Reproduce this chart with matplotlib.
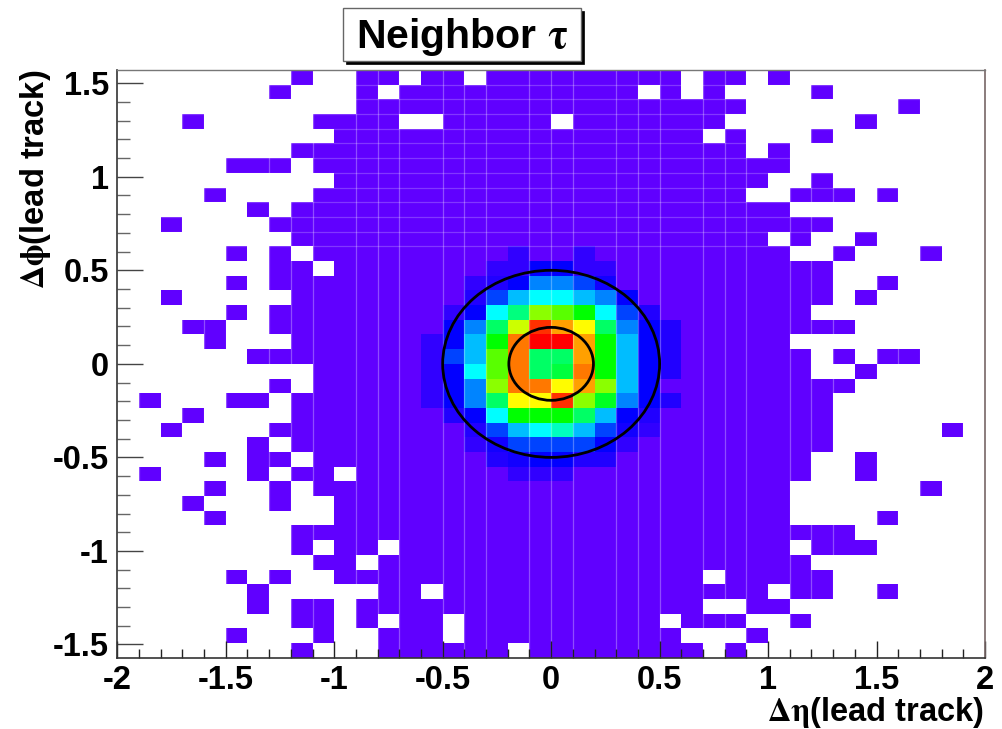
import numpy as np
import matplotlib
matplotlib.use("Agg")
import matplotlib.pyplot as plt
from matplotlib.colors import LinearSegmentedColormap
from matplotlib.patches import Ellipse, Rectangle
from matplotlib.ticker import FixedLocator, MultipleLocator

plt.rcParams['font.family'] = ['Liberation Sans', 'DejaVu Sans']
plt.rcParams['font.weight'] = 'bold'
plt.rcParams['axes.unicode_minus'] = False
plt.rcParams['mathtext.fontset'] = 'stix'
plt.rcParams['mathtext.default'] = 'regular'

# ---- data -------------------------------------------------------------
title_text = r"Neighbor $\mathrm{\tau}$"
x_label = r"$\mathrm{\Delta\eta}$(lead track)"
y_label = r"$\mathrm{\Delta\phi}$(lead track)"
x_ticks = [-2, -1.5, -1, -0.5, 0, 0.5, 1, 1.5, 2]
y_ticks = [-1.5, -1, -0.5, 0, 0.5, 1, 1.5]
x_edges = np.linspace(-2, 2, 41)
y_edges = np.linspace(np.pi / 2, -np.pi / 2, 41)   # top row first
cone_radii = [0.5, 0.195]

# occupied bins in each row, top row first, as (first column, last column)
occupied_spans = [
    [(8,8),(11,12),(14,15),(17,25),(27,28),(30,30)],
    [(7,7),(11,11),(13,23),(25,25),(27,27),(32,32)],
    [(11,28),(36,36)],
    [(3,3),(9,12),(15,19),(21,27),(34,34)],
    [(10,26),(28,28),(32,32)],
    [(8,28),(30,30)],
    [(5,7),(9,30)],
    [(10,29),(32,32)],
    [(4,4),(9,28),(31,33),(35,35)],
    [(6,6),(8,30)],
    [(2,2),(7,32)],
    [(8,29),(31,31),(34,34)],
    [(5,5),(7,7),(9,30),(33,33),(37,37)],
    [(7,8),(10,32)],
    [(5,5),(7,32),(35,35)],
    [(2,2),(8,32),(34,34)],
    [(5,5),(7,31)],
    [(3,4),(7,33)],
    [(4,4),(8,30)],
    [(6,31),(33,33),(35,36)],
    [(9,31),(34,34)],
    [(7,7),(9,33)],
    [(1,1),(5,6),(8,32)],
    [(3,3),(8,32)],
    [(2,2),(7,32),(38,38)],
    [(6,6),(8,32)],
    [(4,4),(6,7),(9,31),(34,34)],
    [(1,1),(6,6),(8,9),(11,31),(34,34)],
    [(4,4),(7,7),(9,30),(37,37)],
    [(3,3),(7,7),(10,30)],
    [(4,4),(10,30),(35,35)],
    [(8,33)],
    [(8,8),(10,11),(13,30),(32,34)],
    [(9,10),(12,31)],
    [(5,5),(7,7),(10,26),(28,32)],
    [(6,6),(12,13),(15,29),(31,32),(35,35)],
    [(6,6),(8,9),(11,26),(29,30)],
    [(8,9),(11,11),(13,14),(16,24),(26,28),(31,31)],
    [(5,5),(9,9),(12,14),(16,25),(29,29)],
    [(8,8),(12,17),(19,26),(28,28)],
]

# estimated level of the central bins: rows 12..27, columns 14..25
core_first_row = 12
core_first_col = 14
core_levels = [
    [ 0, 0, 0, 0, 6, 0, 0, 6, 0, 0, 0, 0],
    [ 0, 0, 0, 6, 6,12,12, 6, 6, 0, 0, 0],
    [ 0, 0, 6, 8,12,24,24,18,10, 0, 0, 0],
    [ 0, 0, 8,18,29,35,35,29,24,12, 0, 0],
    [ 0, 6,12,35,45,66,62,55,35,18, 8, 0],
    [ 0,12,24,47,71,95,84,75,47,24,12, 8],
    [ 6,12,29,55,88,100,100,84,55,29,12, 8],
    [ 6,18,29,62,88,47,47,84,55,29,12, 8],
    [ 6,12,35,62,88,47,50,88,55,29,12, 8],
    [ 6,12,24,66,88,88,75,84,66,29,12, 0],
    [ 6,12,24,47,75,75,95,66,52,24,12, 8],
    [ 0, 8,12,35,55,55,55,47,29,12, 8, 0],
    [ 0, 0, 8,18,29,35,40,29,18,10, 6, 0],
    [ 0, 0, 6,10,18,18,18,18,12, 6, 0, 0],
    [ 0, 0, 0, 8,10,12,12, 8, 8, 0, 0, 0],
    [ 0, 0, 0, 0, 6, 6, 6, 0, 0, 0, 0, 0],
]

# ---- grid ---------------------------------------------------------------
grid = np.full((40, 40), np.nan)
for row, spans in enumerate(occupied_spans):
    for first, last in spans:
        grid[row, first:last + 1] = 0.0
core = np.array(core_levels, dtype=float)
grid[core_first_row:core_first_row + core.shape[0],
     core_first_col:core_first_col + core.shape[1]] = core

cmap = LinearSegmentedColormap.from_list(
    "root_rainbow",
    [(0.0, "#6000ff"), (0.12, "#0000ff"), (0.35, "#00ffff"),
     (0.55, "#00ff00"), (0.75, "#ffff00"), (1.0, "#ff0000")], N=256)
cmap.set_bad("white")

W, H = 1002, 729
L, R, T, B = 117.3, 985.0, 70.0, 657.7
fig = plt.figure(figsize=(W / 100, H / 100), dpi=100, facecolor="white")
ax = fig.add_axes([L / W, 1 - B / H, (R - L) / W, (B - T) / H])

ax.pcolormesh(x_edges, y_edges, np.ma.masked_invalid(grid), cmap=cmap,
              vmin=0, vmax=100, antialiased=False, rasterized=True)
ax.set_xlim(x_edges[0], x_edges[-1])
ax.set_ylim(y_edges[-1], y_edges[0])

# faint seams between the bins
seam_x = [x for i, x in enumerate(x_edges[1:-1], start=1) if i % 4 != 2]
ax.vlines(seam_x, y_edges[-1], y_edges[0], color="white", alpha=0.3, lw=0.9, zorder=1.2)
ax.hlines(y_edges[1:13], x_edges[0], x_edges[-1], color="white", alpha=0.22, lw=0.9, zorder=1.2)

for r in cone_radii:
    ax.add_patch(Ellipse((0, 0), 2 * r, 2 * r, fill=False, ec="black", lw=2.0, zorder=3))

# ---- axes ---------------------------------------------------------------
ax.xaxis.set_major_locator(FixedLocator(x_ticks))
ax.yaxis.set_major_locator(FixedLocator(y_ticks))
ax.xaxis.set_minor_locator(MultipleLocator(0.1))
ax.yaxis.set_minor_locator(MultipleLocator(0.1))
ax.set_xticklabels([f"{v:g}" for v in x_ticks])
ax.set_yticklabels([f"{v:g}" for v in y_ticks])
ax.tick_params(axis="x", which="major", direction="in", length=12, width=1.0,
               color="#222222", labelsize=23.5, pad=5)
ax.tick_params(axis="x", which="minor", direction="in", length=6.2, width=1.0, color="#222222")
ax.tick_params(axis="y", which="major", direction="in", length=19, width=1.0,
               color="#444444", labelsize=23.5, pad=6)
ax.tick_params(axis="y", which="minor", direction="in", length=9.5, width=1.0, color="#666666")
ax.spines["left"].set(color="#333333", lw=1.2)
ax.spines["bottom"].set(color="#333333", lw=1.2)
ax.spines["top"].set(color="#777777", lw=1.0)
ax.spines["right"].set(color="#776666", lw=1.2)

fig.text((R - 1) / W, 1 - 712 / H, x_label, ha="right", va="center", fontsize=23.5, fontweight="bold")
fig.text(36 / W, 1 - 70 / H, y_label, ha="center", va="top", rotation=90, fontsize=23.5, fontweight="bold")

# ---- title box ----------------------------------------------------------
box_l, box_r, box_t, box_b = 343.0, 581.0, 8.0, 61.0
fig.add_artist(Rectangle(((box_l + 3) / W, 1 - (box_b + 3) / H), (box_r - box_l) / W,
                         (box_b - box_t) / H, transform=fig.transFigure, fc="black", ec="black", lw=0.5))
fig.add_artist(Rectangle((box_l / W, 1 - box_b / H), (box_r - box_l) / W,
                         (box_b - box_t) / H, transform=fig.transFigure, fc="white", ec="#666666", lw=1.0))
fig.text(462 / W, 1 - 37 / H, title_text, ha="center", va="center", fontsize=29.5, fontweight="bold")

fig.savefig("out.png", dpi=100, facecolor="white")
